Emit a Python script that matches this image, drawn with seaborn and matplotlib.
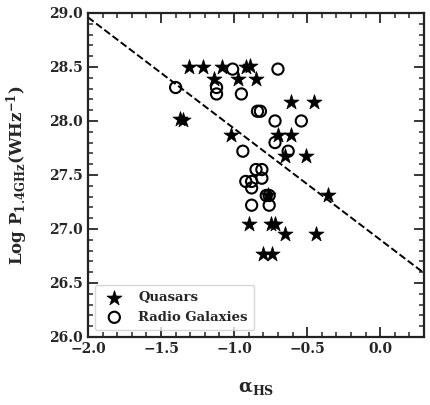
import numpy as np
import pandas as pd
import seaborn as sns
import matplotlib
matplotlib.use("Agg")
import matplotlib.pyplot as plt
from matplotlib.ticker import MultipleLocator, FuncFormatter

# Quasars (stars)
quasar_alpha = [-1.31, -1.21, -1.08, -0.92, -0.89, -1.14, -0.97, -0.85,
                -0.61, -0.45, -1.37, -1.35, -1.02, -0.70, -0.61, -0.65,
                -0.51, -0.36, -0.77, -0.90, -0.75, -0.72, -0.65, -0.44,
                -0.80, -0.74]
quasar_logp = [28.50, 28.50, 28.50, 28.50, 28.51, 28.39, 28.39, 28.39,
               28.18, 28.18, 28.02, 28.01, 27.87, 27.87, 27.87, 27.68,
               27.68, 27.31, 27.31, 27.05, 27.05, 27.05, 26.95, 26.95,
               26.77, 26.77]

# Radio galaxies (open circles)
rg_alpha = [-1.40, -1.12, -1.12, -1.01, -0.95, -0.70, -0.84, -0.82,
            -0.72, -0.54, -0.72, -0.94, -0.63, -0.85, -0.81, -0.92,
            -0.88, -0.81, -0.88, -0.78, -0.76, -0.88, -0.76]
rg_logp = [28.31, 28.31, 28.25, 28.48, 28.25, 28.48, 28.09, 28.09,
           28.00, 28.00, 27.80, 27.72, 27.72, 27.55, 27.55, 27.44,
           27.44, 27.47, 27.38, 27.31, 27.31, 27.22, 27.22]

# dashed reference line
line_x = [-2.0, 0.3]
line_slope = -1.03
line_intercept = 26.9

sns.set_style("ticks")
plt.rcParams['font.family'] = ['DejaVu Serif']
plt.rcParams['font.weight'] = 'bold'
plt.rcParams['mathtext.fontset'] = 'dejavuserif'

fig = plt.figure(figsize=(4.31, 4.05), dpi=100)
ax = fig.add_axes([0.204, 0.168, 0.78, 0.80])

q = pd.DataFrame({'alpha': quasar_alpha, 'logp': quasar_logp})
r = pd.DataFrame({'alpha': rg_alpha, 'logp': rg_logp})

sns.scatterplot(data=q, x='alpha', y='logp', marker='*', s=130, color='black',
                edgecolor='black', linewidth=0.5, label='Quasars', ax=ax, zorder=3)
sns.scatterplot(data=r, x='alpha', y='logp', marker='o', s=65, facecolor='none',
                edgecolor='black', linewidth=1.5, label='Radio Galaxies', ax=ax, zorder=3)

lx = np.array(line_x)
ax.plot(lx, line_slope * lx + line_intercept, ls='--', color='black', lw=1.4, zorder=2)

ax.set_xlim(-2.0, 0.3)
ax.set_ylim(26.0, 29.0)
ax.xaxis.set_major_locator(MultipleLocator(0.5))
ax.xaxis.set_minor_locator(MultipleLocator(0.1))
ax.yaxis.set_major_locator(MultipleLocator(0.5))
ax.yaxis.set_minor_locator(MultipleLocator(0.1))
fmt = FuncFormatter(lambda v, pos: f'{v:.1f}'.replace('-', '\u2212') if abs(v) > 1e-9 else '0.0')
ax.xaxis.set_major_formatter(fmt)
ax.yaxis.set_major_formatter(fmt)

ax.tick_params(which='both', direction='in', top=True, right=True, labelsize=10)
ax.tick_params(which='major', length=7, width=1.3)
ax.tick_params(which='minor', length=3.5, width=1.1)
for lab in ax.get_xticklabels() + ax.get_yticklabels():
    lab.set_fontweight('bold')
for sp in ax.spines.values():
    sp.set_linewidth(1.6)
    sp.set_color('#222222')

ax.set_xlabel(r'$\mathbf{\alpha_{HS}}$', fontsize=13, labelpad=17)
ax.set_ylabel(r'$\mathbf{Log\ P_{1.4GHz}(WHz^{-1})}$', fontsize=12, labelpad=14)

leg = ax.legend(loc='lower left', prop={'weight': 'bold', 'size': 9.5},
                frameon=True, borderpad=0.5, handletextpad=0.8)
leg.get_frame().set_edgecolor('#cccccc')

fig.savefig('out.png', dpi=100)
